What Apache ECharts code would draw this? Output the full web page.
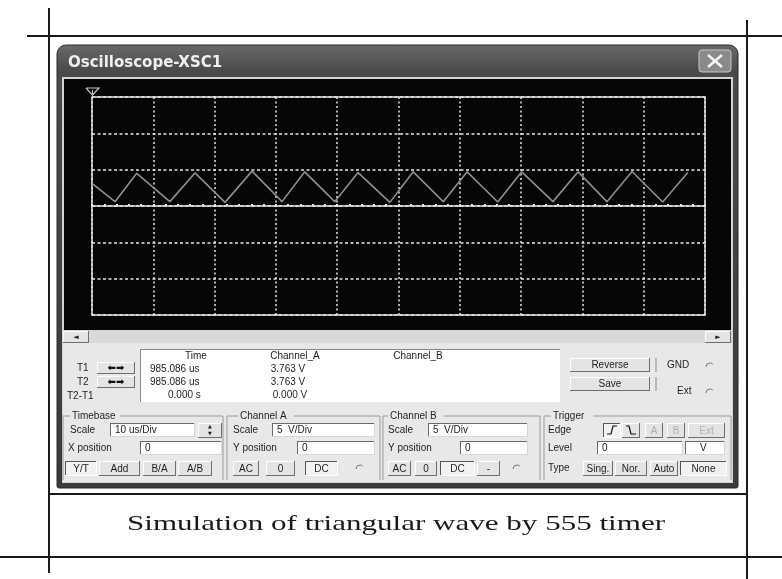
<!DOCTYPE html>
<html><head><meta charset="utf-8">
<script src="https://cdn.jsdelivr.net/npm/echarts/dist/echarts.min.js"></script>
<style>html,body{margin:0;padding:0;background:#fff}#c{width:782px;height:579px}</style>
</head><body><div id="c"></div><script>
// ---- data ----
const timeUs   = [0, 3.75, 7.3, 12.7, 16.8, 21.7, 26.1, 31.0, 34.7, 39.6, 43.4, 48.6, 52.4, 57.3, 61.2, 66.2, 70.1, 75.2, 79.3, 84.0, 88.1, 93.1, 97.2];
const channelA = [3.1, 0.6, 4.5, 0.6, 4.55, 0.5, 4.8, 0.6, 4.7, 0.6, 4.6, 0.5, 4.7, 0.6, 4.7, 0.55, 4.7, 0.6, 4.7, 0.6, 4.75, 0.55, 4.6];
const xTicks = {min: 0, max: 100, interval: 10};   // 10 us/Div
const yTicks = {min: -15, max: 15, interval: 5};   // 5 V/Div
const windowTitle = 'Oscilloscope-XSC1';
const caption = 'Simulation of triangular wave by 555 timer';
const readoutHeaders = ['Time', 'Channel_A', 'Channel_B'];
const readT1 = ['985.086 us', '3.763 V'];
const readT2 = ['985.086 us', '3.763 V'];
const readDiff = ['0.000 s', '0.000 V'];

const chart = echarts.init(document.getElementById('c'), null, {renderer: 'canvas'});
const G = [];
const SANS = '"Liberation Sans", Arial, sans-serif';
function rect(x, y, w, h, fill, stroke, lw, z, r) {
  G.push({type: 'rect', silent: true, z: z == null ? -5 : z, shape: {x, y, width: w, height: h, r: r || 0},
    style: {fill: fill || 'none', stroke: stroke || 'none', lineWidth: lw || 0}});
}
function line(x1, y1, x2, y2, stroke, lw, z) {
  G.push({type: 'line', silent: true, z: z == null ? -4 : z, shape: {x1, y1, x2, y2}, style: {stroke, lineWidth: lw || 1}});
}
function poly(points, stroke, lw, z, fill) {
  G.push({type: 'polyline', silent: true, z: z == null ? 5 : z, shape: {points}, style: {stroke, lineWidth: lw || 1, fill: fill || 'none'}});
}
function text(x, y, str, opt) {
  opt = opt || {};
  G.push({type: 'text', silent: true, z: opt.z || 20, x, y, scaleX: opt.scaleX || 1,
    style: {text: str, fill: opt.color || '#1e1e1e', font: opt.font || ('10px ' + SANS),
      textAlign: opt.align || 'left', align: opt.align || 'left', textVerticalAlign: 'middle', verticalAlign: 'middle'}});
}
function button(x, y, w, h, label, pressed, disabled) {
  rect(x, y, w, h, pressed ? '#f2f2f2' : '#e4e4e4', null, 0, -3);
  const tl = pressed ? '#555' : '#ffffff', br = pressed ? '#ffffff' : '#6e6e6e';
  line(x, y + 0.5, x + w, y + 0.5, tl, 1, -2); line(x + 0.5, y, x + 0.5, y + h, tl, 1, -2);
  line(x, y + h - 0.5, x + w, y + h - 0.5, br, 1, -2); line(x + w - 0.5, y, x + w - 0.5, y + h, br, 1, -2);
  if (label) text(x + w / 2, y + h / 2 + 0.5, label, {align: 'center', color: disabled ? '#b0b0b0' : '#1e1e1e'});
}
function input(x, y, w, h, value) {
  rect(x, y, w, h, '#ffffff', null, 0, -3);
  line(x, y + 0.5, x + w, y + 0.5, '#6a6a6a', 1, -2); line(x + 0.5, y, x + 0.5, y + h, '#6a6a6a', 1, -2);
  line(x, y + h - 0.5, x + w, y + h - 0.5, '#d8d8d8', 1, -2); line(x + w - 0.5, y, x + w - 0.5, y + h, '#d8d8d8', 1, -2);
  if (value != null) text(x + 5, y + h / 2 + 0.5, value);
}
function radio(cx, cy) {
  G.push({type: 'arc', silent: true, z: 5, shape: {cx, cy, r: 4, startAngle: Math.PI, endAngle: Math.PI * 1.75},
    style: {stroke: '#777', lineWidth: 1, fill: 'none'}});
}
function group(x, y, w, h, label, lx, lw) {
  line(x, y, lx - 2, y, '#9a9a9a', 1, -2); line(lx + lw + 2, y, x + w, y, '#9a9a9a', 1, -2);
  line(x, y, x, y + h, '#9a9a9a', 1, -2); line(x + w, y, x + w, y + h, '#9a9a9a', 1, -2);
  text(lx, y, label);
}

// ---- page (document table) lines ----
line(49, 8, 49, 573, '#1a1a1a', 2, -6);
line(747, 20, 747, 579, '#1a1a1a', 2, -6);
line(27, 36, 782, 36, '#1a1a1a', 2, -6);
line(49, 494, 747, 494, '#1a1a1a', 2, -6);
line(0, 557, 782, 557, '#1a1a1a', 2, -6);

// ---- window chrome ----
G.push({type: 'rect', silent: true, z: -9, shape: {x: 57, y: 45, width: 681, height: 443, r: [9, 9, 2, 2]},
  style: {fill: new echarts.graphic.LinearGradient(0, 0, 0, 1, [{offset: 0, color: '#6a6a6a'}, {offset: 0.06, color: '#4a4a4a'}, {offset: 1, color: '#3a3a3a'}]), stroke: '#2a2a2a', lineWidth: 1}});
text(68, 63, windowTitle, {color: '#efefef', font: 'bold 15px "DejaVu Sans", sans-serif'});
G.push({type: 'rect', silent: true, z: -3, shape: {x: 699, y: 50, width: 32, height: 22, r: 3},
  style: {fill: '#8a8a8a', stroke: '#c8c8c8', lineWidth: 1}});
line(708, 55, 722, 67, '#f4f4f4', 2.5, 5); line(722, 55, 708, 67, '#f4f4f4', 2.5, 5);
// inner frame + black screen
rect(62, 77, 671, 406, '#d4d4d4', null, 0, -8);
rect(64, 79, 667, 251, '#060606', null, 0, -7);
// scrollbar
rect(63, 331, 669, 12, '#d9d9d9', null, 0, -6);
button(63, 331, 26, 12, '', false); text(76, 337, '◄', {align: 'center', font: '7px "DejaVu Sans"'});
button(705, 331, 26, 12, '', false); text(718, 337, '►', {align: 'center', font: '7px "DejaVu Sans"'});
// control panel background
rect(63, 343, 669, 139, '#e8e8e8', null, 0, -6);
// cursor marker
poly([[86, 88], [99, 88], [92.5, 95], [86, 88]], '#bdbdbd', 1.2, 5);
line(92.5, 90, 92.5, 97, '#bdbdbd', 1, 5);

// ---- readout area ----
rect(140, 349, 420, 53, '#ffffff', null, 0, -4);
line(140, 349.5, 560, 349.5, '#8a8a8a', 1, -3); line(140.5, 349, 140.5, 402, '#8a8a8a', 1, -3);
text(77, 368, 'T1'); text(77, 382, 'T2'); text(67, 396, 'T2-T1');
button(97, 362, 38, 12, '', false); text(116, 368, '⬅➡', {align: 'center', font: 'bold 10px "DejaVu Sans"', color: '#111'});
button(97, 376, 38, 12, '', false); text(116, 382, '⬅➡', {align: 'center', font: 'bold 10px "DejaVu Sans"', color: '#111'});
text(196, 356, readoutHeaders[0], {align: 'center'});
text(295, 356, readoutHeaders[1], {align: 'center'});
text(418, 356, readoutHeaders[2], {align: 'center'});
text(150, 369, readT1[0]); text(288, 369, readT1[1], {align: 'center'});
text(150, 382, readT2[0]); text(288, 382, readT2[1], {align: 'center'});
text(168, 395, readDiff[0]); text(290, 395, readDiff[1], {align: 'center'});
button(570, 358, 80, 14, 'Reverse', false);
button(570, 377, 80, 14, 'Save', false);
line(656, 358, 656, 372, '#8a8a8a', 1, -2); line(656, 377, 656, 391, '#8a8a8a', 1, -2);
text(667, 365, 'GND'); radio(710, 367);
text(677, 391, 'Ext'); radio(710, 393);

// ---- Timebase ----
group(63, 416, 160, 64, 'Timebase', 72, 46);
text(70, 430, 'Scale'); input(110, 423, 85, 14, '10 us/Div');
button(198, 423, 24, 15, '', false);
text(210, 427, '▲', {align: 'center', font: '5px "DejaVu Sans"'}); text(210, 434, '▼', {align: 'center', font: '5px "DejaVu Sans"'});
text(68, 448, 'X position'); input(140, 441, 82, 14, '0');
button(65, 461, 32, 15, 'Y/T', true); button(99, 461, 41, 15, 'Add', false);
button(143, 461, 33, 15, 'B/A', false); button(178, 461, 34, 15, 'A/B', false);

// ---- Channel A ----
group(227, 416, 153, 64, 'Channel A', 240, 52);
text(233, 430, 'Scale'); input(272, 423, 103, 14, '5  V/Div');
text(233, 448, 'Y position'); input(297, 441, 78, 14, '0');
button(233, 461, 26, 15, 'AC', false); button(266, 461, 29, 15, '0', false);
button(305, 461, 33, 15, 'DC', true); radio(360, 469);

// ---- Channel B ----
group(383, 416, 157, 64, 'Channel B', 390, 52);
text(388, 430, 'Scale'); input(428, 423, 100, 14, '5  V/Div');
text(388, 448, 'Y position'); input(460, 441, 68, 14, '0');
button(388, 461, 23, 15, 'AC', false); button(415, 461, 22, 15, '0', false);
button(440, 461, 35, 15, 'DC', true); button(477, 461, 23, 15, '-', false); radio(517, 469);

// ---- Trigger ----
group(544, 416, 187, 64, 'Trigger', 553, 38);
text(548, 430, 'Edge');
button(603, 423, 18, 15, '', true); poly([[607, 434], [611, 434], [613, 426], [617, 426]], '#111', 1.2, 6);
button(622, 423, 18, 15, '', false); poly([[626, 426], [629, 426], [631, 434], [636, 434]], '#111', 1.2, 6);
button(645, 423, 18, 15, 'A', false, true); button(667, 423, 18, 15, 'B', false, true);
button(688, 423, 37, 15, 'Ext', false, true);
text(548, 448, 'Level'); input(597, 441, 86, 14, '0'); input(685, 441, 40, 14, null);
text(700, 448, 'V');
text(548, 468, 'Type');
button(583, 461, 30, 15, 'Sing.', false); button(615, 461, 32, 15, 'Nor.', false);
button(650, 461, 28, 15, 'Auto', false); button(680, 461, 47, 15, 'None', true);

// ---- caption (scan shows widely spaced Times text) ----
const capFont = '22px "Liberation Serif", "Times New Roman", serif';
const mctx = document.createElement('canvas').getContext('2d');
mctx.font = capFont;
const capW = mctx.measureText(caption).width;
text(127, 524, caption, {font: capFont, color: '#1a1a1a', scaleX: 538 / capW});

chart.setOption({
  animation: false,
  backgroundColor: '#ffffff',
  graphic: {elements: G},
  grid: {left: 92, top: 97, width: 613, height: 218, show: true, borderColor: '#e6e6e6', borderWidth: 1.5, backgroundColor: 'transparent'},
  xAxis: {
    type: 'value', min: xTicks.min, max: xTicks.max, interval: xTicks.interval,
    axisLine: {show: true, onZero: true, lineStyle: {color: '#e6e6e6', width: 1.5}},
    axisTick: {show: true, inside: true, length: 2, lineStyle: {color: '#e6e6e6', width: 2}},
    minorTick: {show: true, splitNumber: 5, length: 2, lineStyle: {color: '#e6e6e6', width: 2}},
    axisLabel: {show: false},
    splitLine: {show: true, lineStyle: {color: '#e6e6e6', width: 1.5, type: [2, 2.5]}}
  },
  yAxis: {
    type: 'value', min: yTicks.min, max: yTicks.max, interval: yTicks.interval,
    axisLine: {show: false}, axisTick: {show: false}, axisLabel: {show: false},
    splitLine: {show: true, lineStyle: {color: '#e6e6e6', width: 1.5, type: [3, 2.5]}}
  },
  series: [{
    type: 'line', name: 'Channel_A', data: timeUs.map((t, i) => [t, channelA[i]]),
    showSymbol: false, symbol: 'none', lineStyle: {color: '#8e8e8e', width: 1.6}, z: 5
  }]
});
</script></body></html>
